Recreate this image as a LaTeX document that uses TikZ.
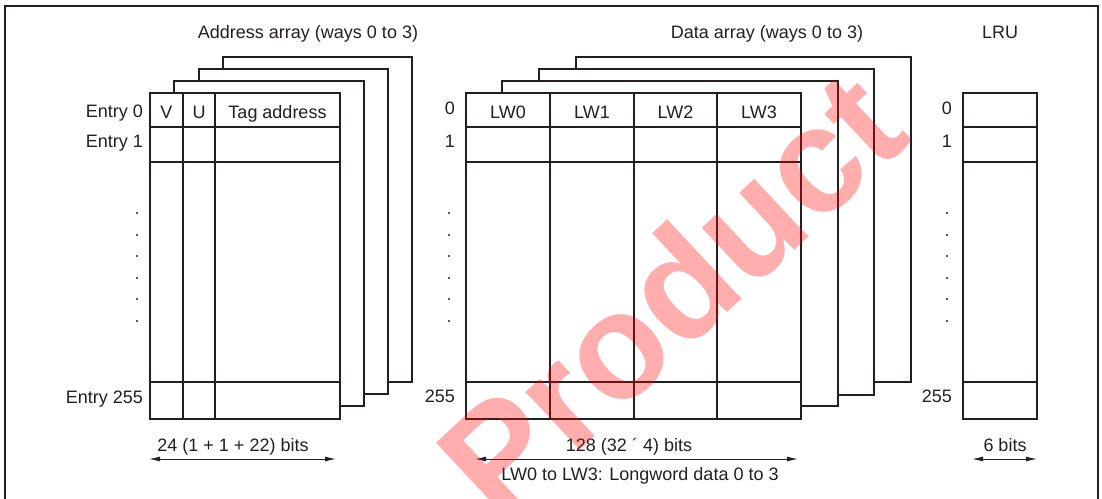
\documentclass[tikz,border=0pt]{standalone}
\usepackage{fontspec}
\setmainfont{Liberation Sans}
\usetikzlibrary{arrows.meta}
\definecolor{ink}{RGB}{35,31,32}
\begin{document}
\begin{tikzpicture}[x=1pt,y=-1pt,
  frameline/.style={draw=ink,line width=2.6pt},
  layer/.style={draw=ink,fill=white,line width=2pt},
  front/.style={draw=ink,line width=2.6pt},
  gridline/.style={draw=ink,line width=1.1pt},
  lbl/.style={text=ink,font=\fontsize{18}{21}\selectfont,inner sep=0pt},
  dimline/.style={draw=ink,line width=1pt,{Latex[length=11pt,width=5pt]}-{Latex[length=11pt,width=5pt]}},
  dotmark/.style={fill=ink}
]
\useasboundingbox (0,0) rectangle (1102,498);
% frame
\draw[frameline] (5,520) -- (5,6) -- (1098,6) -- (1098,520);

% titles
\node[lbl,anchor=base] (tAddr) at (308,38) {Address array (ways 0 to 3)};
\node[lbl,anchor=base] (tData) at (767,38) {Data array (ways 0 to 3)};
\node[lbl,anchor=base] (tLRU) at (1000,38) {LRU};

% ---- address array ----
\foreach \l/\t/\r/\b in {223/57/412/382,199/69/388/394,174/81/364/406}
  \draw[layer] (\l,\t) rectangle (\r,\b);
\fill[white] (150,93) rectangle (340,419);
\foreach \y in {127,162,382} \draw[gridline] (150,\y) -- (340,\y);
\foreach \x in {183,215} \draw[gridline] (\x,93) -- (\x,419);
\draw[front] (150,93) rectangle (340,419);
\node[lbl,anchor=base] (hV) at (166.5,118) {V};
\node[lbl,anchor=base] (hU) at (199,118) {U};
\node[lbl,anchor=base] (hTag) at (277.5,118) {Tag address};
\node[lbl,anchor=base east] (e0) at (143,117) {Entry 0};
\node[lbl,anchor=base east] (e1) at (143,147) {Entry 1};
\node[lbl,anchor=base east] (e255) at (143,403) {Entry 255};
\foreach \y in {213,235,256,278,299,321} \fill[dotmark] (137,\y) circle (1.1pt);

% ---- data array ----
\foreach \l/\t/\r/\b in {576/57/911/382,539/69/874/395,502/81/838/406}
  \draw[layer] (\l,\t) rectangle (\r,\b);
\fill[white] (466,93) rectangle (801,419);
\foreach \y in {127,162,382} \draw[gridline] (466,\y) -- (801,\y);
\foreach \x in {550,634,717} \draw[gridline] (\x,93) -- (\x,419);
\draw[front] (466,93) rectangle (801,419);
\node[lbl,anchor=base] (lw0) at (508,118) {LW0};
\node[lbl,anchor=base] (lw1) at (592,118) {LW1};
\node[lbl,anchor=base] (lw2) at (675.5,118) {LW2};
\node[lbl,anchor=base] (lw3) at (759,118) {LW3};
\node[lbl,anchor=base east] (d0) at (455,114) {0};
\node[lbl,anchor=base east] (d1) at (455,147) {1};
\node[lbl,anchor=base east] (d255) at (455,402) {255};
\foreach \y in {213,235,256,278,299,321} \fill[dotmark] (449,\y) circle (1.1pt);

% ---- LRU ----
\fill[white] (963,93) rectangle (1037,419);
\foreach \y in {127,162,382} \draw[gridline] (963,\y) -- (1037,\y);
\draw[front] (963,93) rectangle (1037,419);
\node[lbl,anchor=base east] (r0) at (952,114) {0};
\node[lbl,anchor=base east] (r1) at (952,147) {1};
\node[lbl,anchor=base east] (r255) at (952,402) {255};
\foreach \y in {213,235,256,278,299,321} \fill[dotmark] (947,\y) circle (1.1pt);

% ---- dimensions ----
\coordinate (aL) at (149,459); \coordinate (aR) at (336,459);
\draw[dimline] (aL) -- (aR);
\node[lbl,anchor=base] (aTxt) at (233,451) {24 (1 + 1 + 22) bits};
\coordinate (dL) at (475,459); \coordinate (dR) at (798,459);
\draw[dimline] (dL) -- (dR);
\node[lbl,anchor=base] (dTxt) at (629,451) {128 (32 ´ 4) bits};
\node[lbl,anchor=base] (dNote) at (640,480) {LW0 to LW3: Longword data 0 to 3};
\coordinate (rL) at (972,459); \coordinate (rR) at (1037,459);
\draw[dimline] (rL) -- (rR);
\node[lbl,anchor=base] (rTxt) at (1005,451) {6 bits};

% ---- watermark ----
\node[text=red,opacity=0.32,rotate=43,inner sep=0pt,
  font=\bfseries\fontsize{150}{150}\selectfont] (wm) at (670,293) {Product};
\end{tikzpicture}
\end{document}
